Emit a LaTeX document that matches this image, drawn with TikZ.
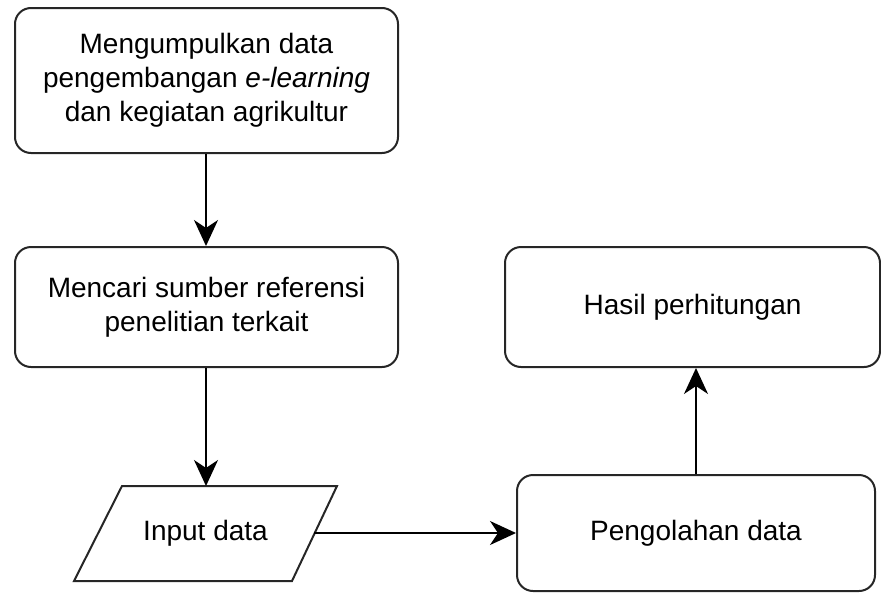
\documentclass[tikz,border=0pt]{standalone}
\usepackage{fontspec}
\setmainfont{Liberation Sans}
\usetikzlibrary{arrows.meta}
\begin{document}
\begin{tikzpicture}[x=1pt,y=-1pt,
  lbl/.style={font=\fontsize{28}{34}\selectfont, align=center, text=black},
  rbox/.style={lbl, draw=black!85, line width=2pt, rounded corners=16pt, inner sep=0pt},
  conn/.style={draw=black, line width=2pt, -{Stealth[length=26pt,width=24pt,inset=8pt]}}]
\useasboundingbox (0,0) rectangle (881,592);
\node[rbox, minimum width=383pt, minimum height=145pt] (collect) at (206.5,80.5)
  {Mengumpulkan data\\pengembangan \textit{e-learning}\\dan kegiatan agrikultur};
\node[rbox, minimum width=383pt, minimum height=120pt] (search) at (206.5,307)
  {Mencari sumber referensi\\penelitian terkait};
\node[lbl] (input) at (205.5,533.5) {Input data};
\draw[draw=black!85, line width=2pt] (122,486) -- (337,486) -- (292,581) -- (74,581) -- cycle;
\coordinate (inputtop) at (206,486);
\coordinate (inputright) at (314,533);
\node[rbox, minimum width=358pt, minimum height=116pt] (proc) at (696,533) {Pengolahan data};
\node[rbox, minimum width=375pt, minimum height=120pt] (result) at (692.5,307) {Hasil perhitungan};
\draw[conn] (collect.south -| inputtop) -- (search.north -| inputtop);
\draw[conn] (search.south -| inputtop) -- (inputtop);
\draw[conn] (inputright) -- (proc.west |- inputright);
\draw[conn] (proc.north) -- (proc.north |- result.south);
\end{tikzpicture}
\end{document}
